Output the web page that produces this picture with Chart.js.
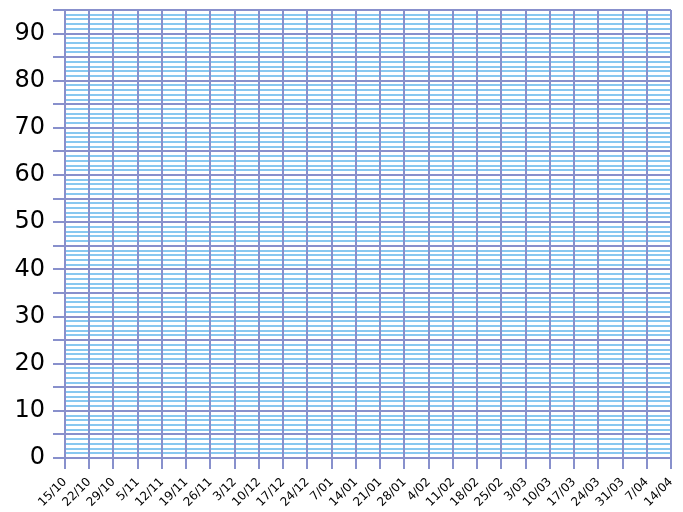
<!DOCTYPE html>
<html lang="en">
<head>
  <meta charset="UTF-8">
  <title>Weekly grid</title>
  <script src="https://cdn.jsdelivr.net/npm/chart.js"></script>
  <style>
    body {
      margin: 0;
      padding: 0;
      background-color: #fff;
    }
    .chart-container {
      width: 683px;
      height: 512px;
    }
  </style>
</head>
<body>
  <div class="chart-container">
    <canvas id="myChart"></canvas>
  </div>

  <script>
    // week labels along the bottom (no 31/12 in the original)
    const weeks = ['15/10', '22/10', '29/10', '5/11', '12/11', '19/11', '26/11', '3/12',
      '10/12', '17/12', '24/12', '7/01', '14/01', '21/01', '28/01', '4/02', '11/02',
      '18/02', '25/02', '3/03', '10/03', '17/03', '24/03', '31/03', '7/04', '14/04'];
    // y range and grid steps
    const yRange = [0, 95];
    const minorStep = 1;
    const majorStep = 5;
    const labelStep = 10;
    // nothing plotted on the grid
    const values = [];

    const majorColor = '#8890cc';
    const minorColor = '#88c8f0';

    const ctx = document.getElementById('myChart').getContext('2d');
    const myChart = new Chart(ctx, {
      type: 'line',
      data: {
        labels: weeks,
        datasets: [{
          data: values,
          borderColor: majorColor
        }]
      },
      options: {
        responsive: true,
        maintainAspectRatio: false,
        animation: false,
        layout: {
          padding: { top: 10, right: 12, left: 0, bottom: 0 }
        },
        plugins: {
          legend: { display: false },
          tooltip: { enabled: false }
        },
        scales: {
          x: {
            grid: {
              color: majorColor,
              lineWidth: 2,
              tickLength: 11
            },
            border: { color: majorColor, width: 2 },
            ticks: {
              autoSkip: false,
              minRotation: 45,
              maxRotation: 45,
              padding: 6,
              color: '#000',
              font: { family: 'DejaVu Sans', size: 12 }
            },
            afterFit: function(scale) {
              scale.height = 54;
              scale.paddingLeft = 0;
              scale.paddingRight = 0;
            }
          },
          y: {
            min: yRange[0],
            max: yRange[1],
            grid: {
              z: -2,
              color: ctx => ctx.tick && ctx.tick.value % majorStep === 0 ? majorColor : minorColor,
              tickColor: ctx => ctx.tick && ctx.tick.value % majorStep === 0 ? majorColor : 'rgba(0,0,0,0)',
              lineWidth: 2,
              tickLength: 12
            },
            border: { color: majorColor, width: 2 },
            ticks: {
              stepSize: minorStep,
              autoSkip: false,
              padding: 8,
              color: '#000',
              font: { family: 'DejaVu Sans', size: 24 },
              callback: function(value) {
                return value % labelStep === 0 && value < yRange[1] ? String(value) : '';
              }
            },
            afterFit: function(scale) {
              scale.width = 65;
              scale.paddingTop = 0;
              scale.paddingBottom = 0;
            }
          }
        }
      }
    });
  </script>
</body>
</html>
